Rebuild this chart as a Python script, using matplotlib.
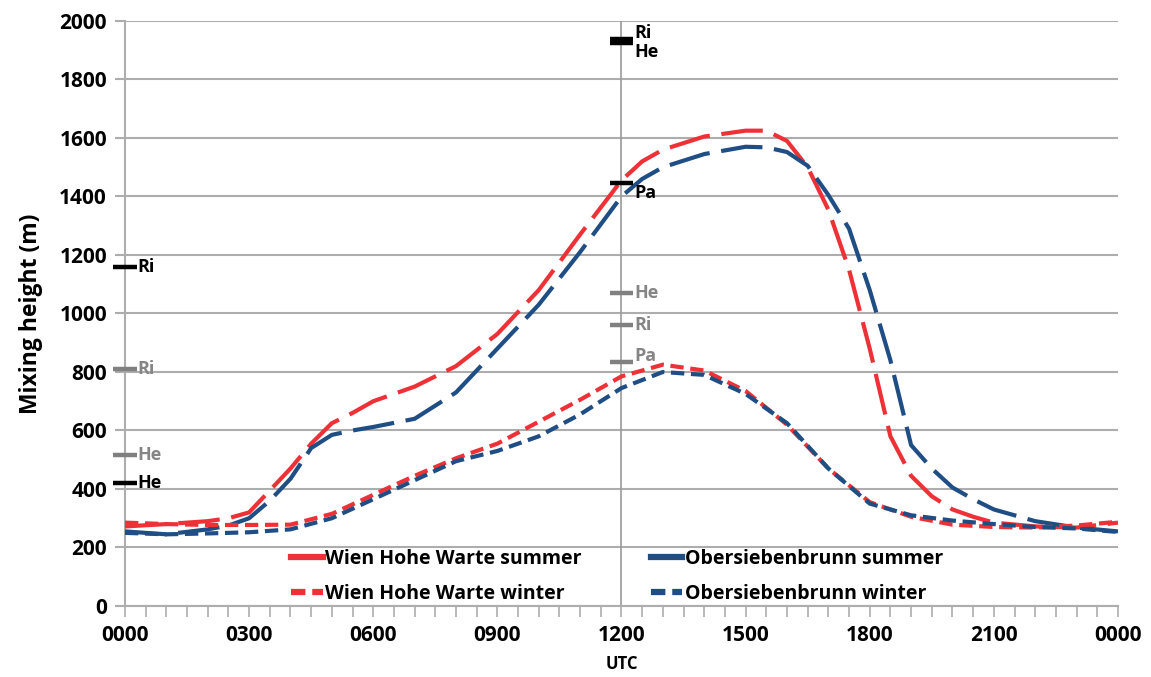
import matplotlib
matplotlib.use("Agg")
import matplotlib.pyplot as plt
from matplotlib.lines import Line2D

plt.rcParams['font.family'] = ['Open Sans', 'DejaVu Sans']
plt.rcParams['font.weight'] = 'bold'

# Diurnal mixing height (m) by UTC hour
hours_summer = [0, 1, 2, 2.5, 3, 3.5, 4, 4.5, 5, 5.5, 6, 7, 8, 9, 10, 11, 12, 12.5,
                13, 14, 15, 15.5, 16, 16.5, 17, 17.5, 18, 18.5, 19, 19.5, 20, 20.5,
                21, 22, 23, 24]
wien_summer = [272, 280, 290, 300, 320, 395, 470, 555, 625, 660, 700, 750, 820, 930,
               1080, 1270, 1455, 1520, 1560, 1605, 1625, 1625, 1590, 1500, 1355, 1150,
               880, 580, 445, 375, 330, 305, 285, 272, 268, 285]
obers_summer = [255, 245, 262, 275, 300, 360, 435, 540, 585, 600, 612, 640, 730, 880,
                1030, 1210, 1400, 1460, 1500, 1545, 1570, 1568, 1552, 1505, 1405, 1290,
                1080, 840, 550, 470, 405, 365, 330, 290, 268, 255]

hours_winter = list(range(0, 25))
wien_winter = [285, 280, 277, 277, 278, 315, 380, 445, 505, 555, 630, 705, 785, 825,
               805, 735, 620, 470, 355, 305, 278, 270, 268, 275, 288]
obers_winter = [250, 245, 248, 252, 262, 300, 365, 430, 495, 530, 580, 655, 745, 800,
                790, 725, 625, 470, 350, 310, 292, 280, 270, 265, 253]

# Reference levels: (hour, height, label, colour, label offset in m)
ref_levels = [
    (0, 1160, "Ri", "black", 0),
    (0, 810, "Ri", "grey", 0),
    (0, 515, "He", "grey", 0),
    (0, 420, "He", "black", 0),
    (12, 1938, "Ri", "black", 22),
    (12, 1925, "He", "black", -30),
    (12, 1445, "Pa", "black", -32),
    (12, 1070, "He", "grey", 0),
    (12, 960, "Ri", "grey", 0),
    (12, 833, "Pa", "grey", 22),
]

x_ticks = [0, 3, 6, 9, 12, 15, 18, 21, 24]
x_tick_labels = ["0000", "0300", "0600", "0900", "1200", "1500", "1800", "2100", "0000"]

RED = "#EE3136"
BLUE = "#1F4E85"
GRID = "#ADADAD"
GREY_TXT = "#858585"

fig = plt.figure(figsize=(11.51, 6.77), dpi=100)
ax = fig.add_axes([0.1086, 0.1049, 0.8627, 0.8641])

ax.set_xlim(0, 24)
ax.set_ylim(0, 2000)
ax.set_yticks(range(0, 2001, 200))
ax.set_xticks(x_ticks)
ax.set_xticklabels(x_tick_labels)
ax.set_xticks([h * 0.5 for h in range(49)], minor=True)

ax.yaxis.grid(True, color=GRID, lw=1.5)
ax.set_axisbelow(True)
for s in ["top", "right"]:
    ax.spines[s].set_visible(False)
for s in ["left", "bottom"]:
    ax.spines[s].set_color(GRID)
    ax.spines[s].set_linewidth(1.5)

ax.tick_params(axis="y", which="major", length=7, width=1.5, color=GRID,
               labelsize=15, pad=6)
ax.tick_params(axis="x", which="major", length=8, width=1.2, color=GRID,
               labelsize=15, pad=6)
ax.tick_params(axis="x", which="minor", length=8, width=1.2, color=GRID)
for t in ax.get_xticklabels() + ax.get_yticklabels():
    t.set_fontweight("bold")

ax.axvline(12, color="#9A9A9A", lw=1.2, zorder=1)

long_dash = (0, (10, 2.8))
short_dash = (0, (3.2, 1.6))
lw = 3.0
ax.plot(hours_summer, wien_summer, color=RED, lw=lw, ls=long_dash, zorder=3)
ax.plot(hours_summer, obers_summer, color=BLUE, lw=lw, ls=long_dash, zorder=3)
ax.plot(hours_winter, wien_winter, color=RED, lw=lw, ls=short_dash, zorder=3)
ax.plot(hours_winter, obers_winter, color=BLUE, lw=lw, ls=short_dash, zorder=3)

# Reference level bars and labels
for h, v, lab, col, dy in ref_levels:
    c = "black" if col == "black" else "#808080"
    tc = "black" if col == "black" else GREY_TXT
    ax.plot([h - 0.28, h + 0.28], [v, v], color=c, lw=3.2, solid_capstyle="butt",
            zorder=5, clip_on=False)
    ax.text(h + 0.3, v + dy, lab, color=tc, fontsize=13, fontweight="bold",
            va="center", ha="left", zorder=6)

ax.set_ylabel("Mixing height (m)", fontsize=16.5, fontweight="bold", labelpad=12)
ax.set_xlabel("UTC", fontsize=12, fontweight="bold", labelpad=6)

handles = [
    Line2D([], [], color=RED, lw=4.5, ls="-"),
    Line2D([], [], color=RED, lw=4.5, ls=(0, (2.3, 1.1))),
    Line2D([], [], color=BLUE, lw=4.5, ls="-"),
    Line2D([], [], color=BLUE, lw=4.5, ls=(0, (2.3, 1.1))),
]
labels = ["Wien Hohe Warte summer", "Wien Hohe Warte winter",
          "Obersiebenbrunn summer", "Obersiebenbrunn winter"]
leg = ax.legend(handles, labels, ncol=2, frameon=False, fontsize=14,
                loc="lower left", bbox_to_anchor=(0.150, -0.026),
                handlelength=1.6, handletextpad=0.12, columnspacing=3.6,
                labelspacing=0.78)
for t in leg.get_texts():
    t.set_fontweight("bold")

fig.savefig("out.png", dpi=100)
